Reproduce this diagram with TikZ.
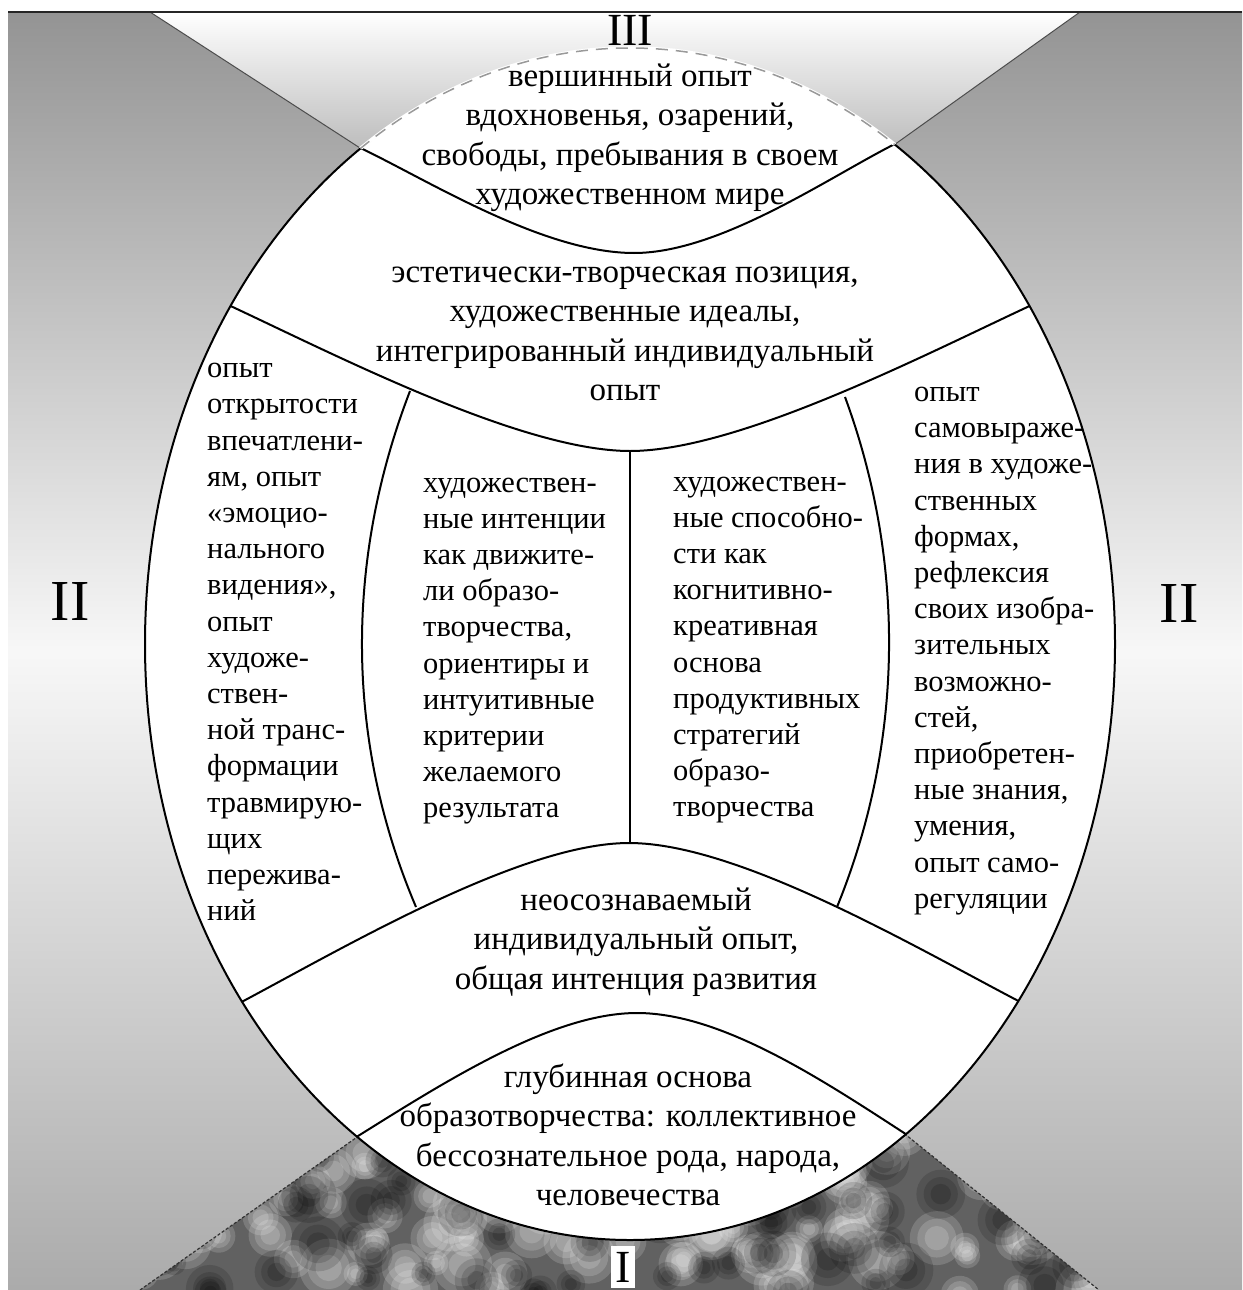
\documentclass[tikz,border=0pt]{standalone}
\usepackage{fontspec}
\setmainfont{Liberation Serif}
\begin{document}
\begin{tikzpicture}[x=1pt,y=-1pt,
  coltext/.style={font=\fontsize{30.5}{36.2}\selectfont, align=left, inner sep=0pt, anchor=west},
  bandtext/.style={font=\fontsize{33}{39.5}\selectfont, align=center, inner sep=0pt},
  romansmall/.style={font=\fontsize{46}{50}\selectfont, inner sep=0pt},
  romanbig/.style={font=\fontsize{58}{62}\selectfont, inner sep=0pt},
  sepline/.style={line width=2pt, black},
  edgeline/.style={line width=1pt, black!70}
]
\useasboundingbox (0,0) rectangle (1242,1290);
\fill[white] (0,0) rectangle (1242,1290);
% side background
\shade[top color=black!42, bottom color=black!33, middle color=black!3] (8,12) rectangle (1242,1290);

% key points
\coordinate (tl) at (150,12);
\coordinate (tr) at (1080,12);
\coordinate (tapex) at (638,328);
\coordinate (bl) at (140,1290);
\coordinate (br) at (1099,1290);
\coordinate (bapex) at (651,930);
\coordinate (ec) at (630,644);

% top light wedge
\shade[top color=white, bottom color=black!60] (tl) -- (tr) -- (tapex) -- cycle;
\draw[edgeline] (tl) -- (tapex) -- (tr);

% bottom mottled wedge
\begin{scope}
  \clip (bl) -- (br) -- (bapex) -- cycle;
  \fill[black!62] (100,900) rectangle (1150,1290);
  \pgfmathsetseed{11}
  \foreach \i in {1,...,150}{
    \pgfmathsetmacro\px{140+960*rnd}
    \pgfmathsetmacro\py{1110+185*rnd}
    \pgfmathsetmacro\pr{12+18*rnd}
    \fill[white, opacity=0.16] (\px,\py) circle[radius=\pr];
    \fill[white, opacity=0.16] (\px,\py) circle[radius=0.72*\pr];
    \fill[white, opacity=0.16] (\px,\py) circle[radius=0.45*\pr];
  }
  \foreach \i in {1,...,100}{
    \pgfmathsetmacro\px{140+960*rnd}
    \pgfmathsetmacro\py{1110+185*rnd}
    \pgfmathsetmacro\pr{12+16*rnd}
    \fill[black, opacity=0.14] (\px,\py) circle[radius=\pr];
    \fill[black, opacity=0.14] (\px,\py) circle[radius=0.7*\pr];
    \fill[black, opacity=0.14] (\px,\py) circle[radius=0.42*\pr];
  }
\end{scope}
\draw[black!80, line width=1.2pt, dash pattern=on 3pt off 2pt] (bl) -- (bapex) -- (br);

% top rule
\draw[line width=2.5pt, black!85] (8,12) -- (1242,12);

% the ellipse
\fill[white] (ec) ellipse[x radius=485, y radius=596];

% inner division lines
\begin{scope}
  \clip (ec) ellipse[x radius=485, y radius=596];
  \draw[sepline] (352,144) .. controls (420,175) and (540,253) .. (634,253)
                 .. controls (724,253) and (839,170) .. (905,139);
  \draw[sepline] (222,302) .. controls (330,352) and (520,451) .. (630,451)
                 .. controls (740,451) and (930,352) .. (1036,303);
  \draw[sepline] (234,1006) .. controls (340,950) and (520,843) .. (629,843)
                 .. controls (740,843) and (920,950) .. (1028,1006);
  \draw[sepline] (350,1141) .. controls (440,1085) and (550,1013) .. (637,1013)
                 .. controls (725,1013) and (830,1085) .. (918,1142);
\end{scope}
\coordinate (ctop) at (630,451);
\coordinate (cbot) at (630,843);
\coordinate (ltop) at (410,391);
\coordinate (lbot) at (416,907);
\coordinate (rtop) at (845,397);
\coordinate (rbot) at (837,907);
\draw[sepline] (ctop) -- (cbot);
\draw[sepline] (ltop) .. controls (345,560) and (345,740) .. (lbot);
\draw[sepline] (rtop) .. controls (905,560) and (905,740) .. (rbot);

% ellipse outline (faint on top arc)
\draw[line width=2pt, black] (ec) ellipse[x radius=485, y radius=596];
\begin{scope}
  \clip (tl) -- (tr) -- (tapex) -- cycle;
  \clip (0,0) rectangle (1242,150);
  \draw[white, line width=3.5pt] (ec) ellipse[x radius=485, y radius=596];
  \draw[black!40, line width=1.5pt, dash pattern=on 12pt off 8pt] (ec) ellipse[x radius=485, y radius=596];
\end{scope}

% labels
\node[romansmall] (rIII) at (630,30) {III};
\node[romansmall, fill=white, inner xsep=4pt, inner ysep=6pt] (rI) at (623,1267) {I};
\node[romanbig] (rIIl) at (70,602) {II};
\node[romanbig] (rIIr) at (1179,604) {II};

% band texts
\node[bandtext] (peak) at (630,138) {вершинный опыт\\ вдохновенья, озарений,\\ свободы, пребывания в своем\\ художественном мире};
\node[bandtext] (aest) at (625,334) {эстетически-творческая позиция,\\ художественные идеалы,\\ интегрированный индивидуальный\\ опыт};
\node[bandtext] (uncons) at (636,942) {неосознаваемый\\ индивидуальный опыт,\\ общая интенция развития};
\node[bandtext] (deep) at (628,1135) {глубинная основа\\ образотворчества: коллективное\\ бессознательное рода, народа,\\ человечества};

% column texts
\node[coltext] (leftcol) at (207,642) {опыт\\ открытости\\ впечатлени-\\ ям, опыт\\ «эмоцио-\\ нального\\ видения»,\\ опыт\\ художе-\\ ствен-\\ ной транс-\\ формации\\ травмирую-\\ щих\\ пережива-\\ ний};
\node[coltext] (midleft) at (423,651) {художествен-\\ ные интенции\\ как движите-\\ ли образо-\\ творчества,\\ ориентиры и\\ интуитивные\\ критерии\\ желаемого\\ результата};
\node[coltext] (midright) at (673,650) {художествен-\\ ные способно-\\ сти как\\ когнитивно-\\ креативная\\ основа\\ продуктивных\\ стратегий\\ образо-\\ творчества};
\node[coltext] (rightcol) at (914,651) {опыт\\ самовыраже-\\ ния в художе-\\ ственных\\ формах,\\ рефлексия\\ своих изобра-\\ зительных\\ возможно-\\ стей,\\ приобретен-\\ ные знания,\\ умения,\\ опыт само-\\ регуляции};
\end{tikzpicture}
\end{document}
